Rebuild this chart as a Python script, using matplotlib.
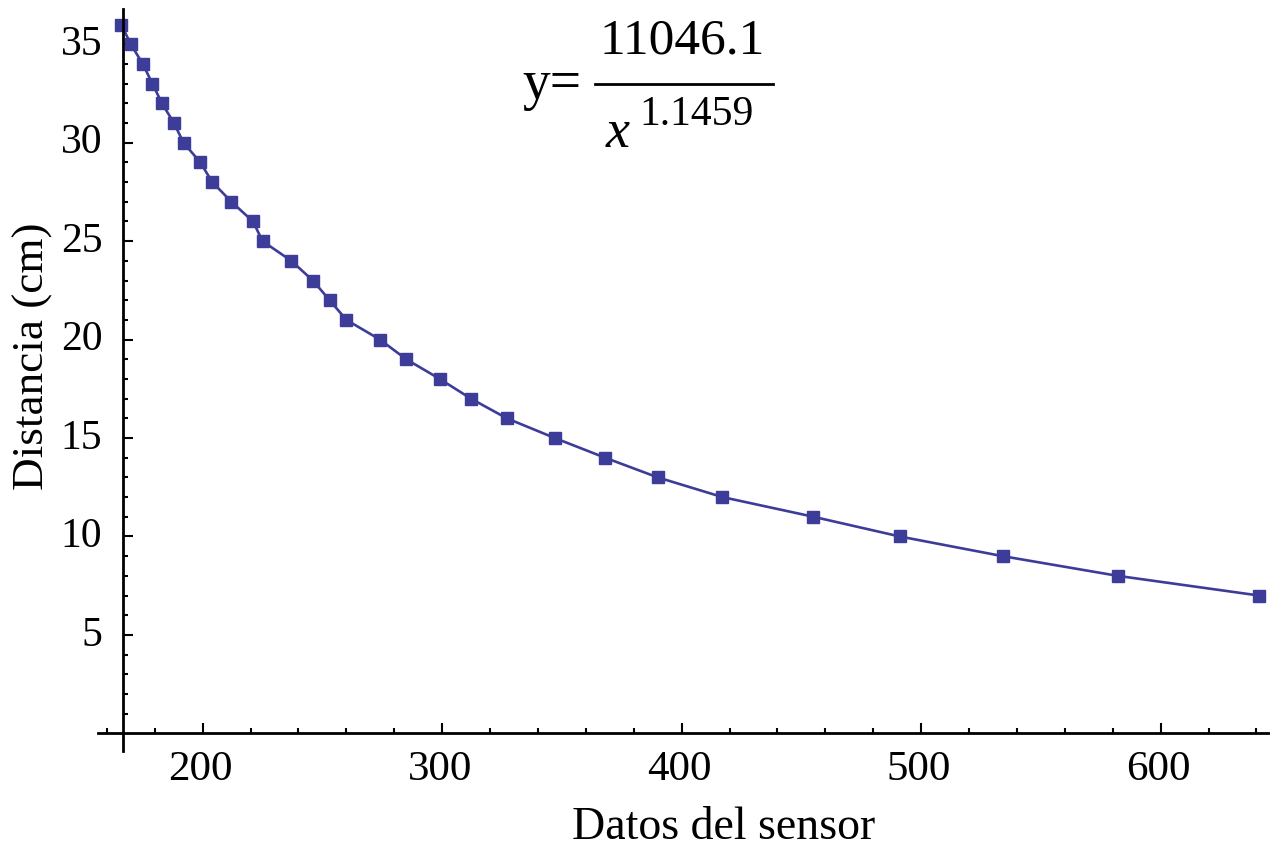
import numpy as np
import matplotlib
matplotlib.use("Agg")
import matplotlib.pyplot as plt
from matplotlib.ticker import FixedLocator
from matplotlib.lines import Line2D
from matplotlib.transforms import ScaledTranslation

# ---- data ----
sensor = [166, 170, 175, 179, 183, 188, 192, 199, 204, 212, 221, 225, 237, 246,
          253, 260, 274, 285, 299, 312, 327, 347, 368, 390, 417, 455, 491, 534,
          582, 641]
distance = [36, 35, 34, 33, 32, 31, 30, 29, 28, 27, 26, 25, 24, 23, 22, 21, 20,
            19, 18, 17, 16, 15, 14, 13, 12, 11, 10, 9, 8, 7]
x_major = [200, 300, 400, 500, 600]
y_major = [5, 10, 15, 20, 25, 30, 35]
x_label = "Datos del sensor"
y_label = "Distancia (cm)"
numerator = "11046.1"
exponent = "1.1459"

W, H = 1270, 843
color = "#3d3d99"
plt.rcParams["font.family"] = ["Liberation Serif", "DejaVu Serif"]

fig = plt.figure(figsize=(W / 100, H / 100), dpi=100)
ax = fig.add_axes([0, 0, 1, 1])
ax.set_xlim(115.37, 645.64)
ax.set_ylim(-5.572, 37.25)
ax.patch.set_visible(False)

ax.plot(sensor, distance, color=color, lw=1.9, marker="s", ms=8.6,
        mec=color, mfc=color, solid_joinstyle="round")

for s in ["top", "right"]:
    ax.spines[s].set_visible(False)
ax.spines["left"].set_position(("data", 166.85))
ax.spines["bottom"].set_position(("data", 0))
ax.spines["left"].set_bounds(-0.88, 36.79)
ax.spines["bottom"].set_bounds(156.2, 645.6)
for s in ["left", "bottom"]:
    ax.spines[s].set_linewidth(2.0)
    ax.spines[s].set_color("black")

ax.xaxis.set_major_locator(FixedLocator(x_major))
ax.yaxis.set_major_locator(FixedLocator(y_major))
ax.xaxis.set_minor_locator(FixedLocator(np.arange(160, 641, 20)))
ax.yaxis.set_minor_locator(FixedLocator(np.arange(1, 37, 1)))
ax.tick_params(which="both", direction="in", color="black", width=1.5)
ax.tick_params(which="major", length=7.2)
ax.tick_params(which="minor", length=3.6)
ax.tick_params(axis="x", which="major", labelsize=31, pad=12.5)
ax.tick_params(axis="y", which="major", labelsize=30, pad=15)

for lab in ax.get_yticklabels():
    lab.set_transform(lab.get_transform() +
                      ScaledTranslation(0, 4 / 100, fig.dpi_scale_trans))
for lab in ax.get_xticklabels():
    lab.set_transform(lab.get_transform() +
                      ScaledTranslation(-2.5 / 100, 0, fig.dpi_scale_trans))

def fx(px):
    return px / W

def fy(py):
    return 1 - py / H

fig.text(fx(724), fy(839), x_label, fontsize=33, ha="center", va="baseline")
fig.text(fx(33), fy(356), y_label, fontsize=32.5, ha="center", va="center",
         rotation=90)

# equation
fig.text(fx(522), fy(99), "y=", fontsize=40, ha="left", va="baseline")
fig.text(fx(682), fy(53), numerator, fontsize=37, ha="center", va="baseline")
fig.add_artist(Line2D([fx(595), fx(773)], [fy(83.5), fy(83.5)],
                      transform=fig.transFigure, color="black", lw=2.0))
fig.text(fx(606), fy(147), "x", fontsize=39, style="italic", ha="left",
         va="baseline")
fig.text(fx(639), fy(125), exponent, fontsize=30, ha="left", va="baseline")

fig.savefig("out.png", dpi=100)
